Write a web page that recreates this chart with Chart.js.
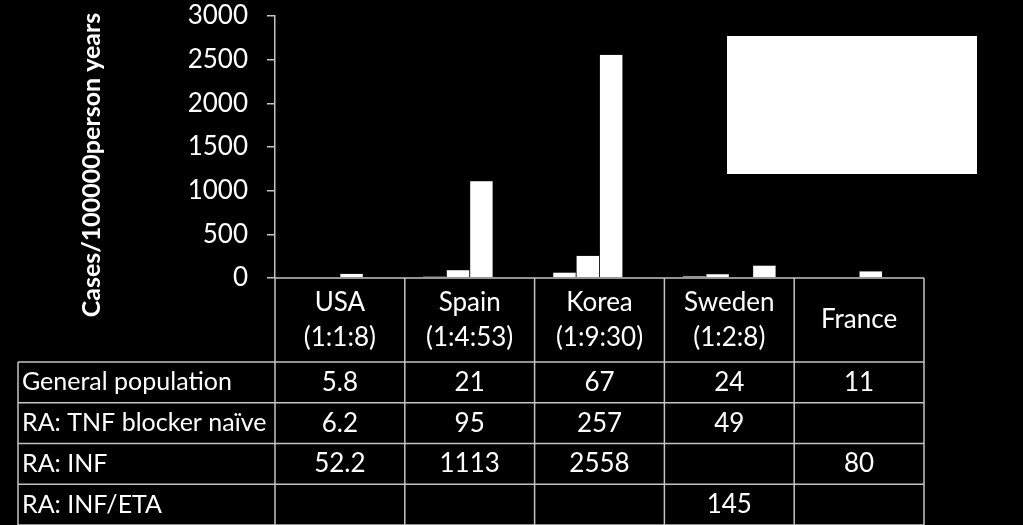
<!DOCTYPE html>
<html>
<head>
<meta charset="utf-8">
<script src="https://cdn.jsdelivr.net/npm/chart.js@4"></script>
<style>
    html, body { margin: 0; padding: 0; background: #000; }
    #wrap { width: 1023px; height: 525px; position: relative; }
</style>
</head>
<body>
<div id="wrap"><canvas id="myChart"></canvas></div>
<script>
// chart data
const categories = [['USA', '(1:1:8)'], ['Spain', '(1:4:53)'], ['Korea', '(1:9:30)'], ['Sweden', '(1:2:8)'], ['France']];
const seriesNames = ['General population', 'RA: TNF blocker naïve', 'RA: INF', 'RA: INF/ETA'];
const generalPopulation = [5.8, 21, 67, 24, 11];
const tnfNaive = [6.2, 95, 257, 49, null];
const raInf = [52.2, 1113, 2558, null, 80];
const raInfEta = [null, null, null, 145, null];
const yMin = 0, yMax = 3000, yStep = 500;
const yTitle = 'Cases/100000person years';

const seriesValues = [generalPopulation, tnfNaive, raInf, raInfEta];
const FONT = 'Lato';
const LINE = '#c4c4c4';

// white legend box, y title and data table under the axis
const tablePlugin = {
    id: 'dataTable',
    afterDraw(chart) {
        const c = chart.ctx;
        const x = chart.scales.x;
        const area = chart.chartArea;
        const half = (x.getPixelForValue(1) - x.getPixelForValue(0)) / 2;
        const top = area.bottom;
        const headerH = 84;
        const rowH = (chart.height - top - headerH) / seriesNames.length;
        const labelLeft = 18;

        c.save();
        // legend box
        c.fillStyle = '#fff';
        c.fillRect(727, 36, 250, 138);

        // y axis title
        c.save();
        c.translate(92, 165);
        c.rotate(-Math.PI / 2);
        c.font = 'bold 25px ' + FONT;
        c.textAlign = 'center';
        c.textBaseline = 'middle';
        c.fillText(yTitle, 0, 0);
        c.restore();

        c.strokeStyle = LINE;
        c.lineWidth = 1.5;
        c.beginPath();
        // top border = x axis
        c.moveTo(area.left, top); c.lineTo(area.right, top);
        for (let r = 0; r <= seriesNames.length; r++) {
            const y = top + headerH + r * rowH;
            c.moveTo(labelLeft, y); c.lineTo(area.right, y);
        }
        c.moveTo(labelLeft, top + headerH); c.lineTo(labelLeft, chart.height);
        for (let i = 0; i < categories.length; i++) {
            const bx = x.getPixelForValue(i) - half;
            c.moveTo(bx, top); c.lineTo(bx, chart.height);
        }
        c.moveTo(area.right, top); c.lineTo(area.right, chart.height);
        c.stroke();

        c.fillStyle = '#fff';
        c.font = '26px ' + FONT;
        c.textBaseline = 'middle';
        // header
        c.textAlign = 'center';
        categories.forEach(function(lines, i) {
            const cx = x.getPixelForValue(i);
            const lh = 35;
            const y0 = top + headerH / 2 - (lines.length - 1) * lh / 2;
            lines.forEach(function(t, k) { c.fillText(t, cx, y0 + k * lh); });
        });
        // rows
        seriesNames.forEach(function(name, r) {
            const cy = top + headerH + r * rowH + rowH / 2;
            c.font = '25px ' + FONT;
            c.textAlign = 'left';
            c.fillText(name, labelLeft + 4, cy);
            c.textAlign = 'center';
            c.font = '26px ' + FONT;
            seriesValues[r].forEach(function(v, i) {
                if (v !== null) c.fillText(String(v), x.getPixelForValue(i), cy);
            });
        });
        c.restore();
    }
};

function createChart() {
    var ctx = document.getElementById('myChart').getContext('2d');
    var myChart = new Chart(ctx, {
        type: 'bar',
        data: {
            labels: categories,
            datasets: seriesNames.map(function(name, i) {
                return {
                    label: name,
                    data: seriesValues[i],
                    backgroundColor: '#ffffff',
                    borderColor: '#555',
                    borderWidth: 0.5,
                    barPercentage: 1,
                    categoryPercentage: 0.72
                };
            })
        },
        plugins: [tablePlugin],
        options: {
            responsive: true,
            maintainAspectRatio: false,
            animation: false,
            layout: { padding: { left: 80, right: 99, top: 16, bottom: 247 } },
            plugins: {
                legend: { display: false },
                tooltip: { enabled: false }
            },
            scales: {
                x: {
                    display: false
                },
                y: {
                    min: yMin,
                    max: yMax,
                    afterFit: function(scale) {
                        scale.width = 195;
                        scale.paddingTop = 0;
                        scale.paddingBottom = 0;
                    },
                    ticks: {
                        stepSize: yStep,
                        color: '#fff',
                        padding: 19,
                        font: { family: FONT, size: 26 },
                        callback: function(v) { return String(v); }
                    },
                    grid: {
                        drawOnChartArea: false,
                        drawTicks: true,
                        tickLength: 8,
                        color: LINE,
                        lineWidth: 1.5
                    },
                    border: { display: true, color: LINE, width: 1.5 }
                }
            }
        }
    });
}

document.addEventListener('DOMContentLoaded', function() {
    Promise.all([
        document.fonts.load('26px Lato'),
        document.fonts.load('bold 25px Lato')
    ]).then(createChart, createChart);
});
</script>
</body>
</html>
